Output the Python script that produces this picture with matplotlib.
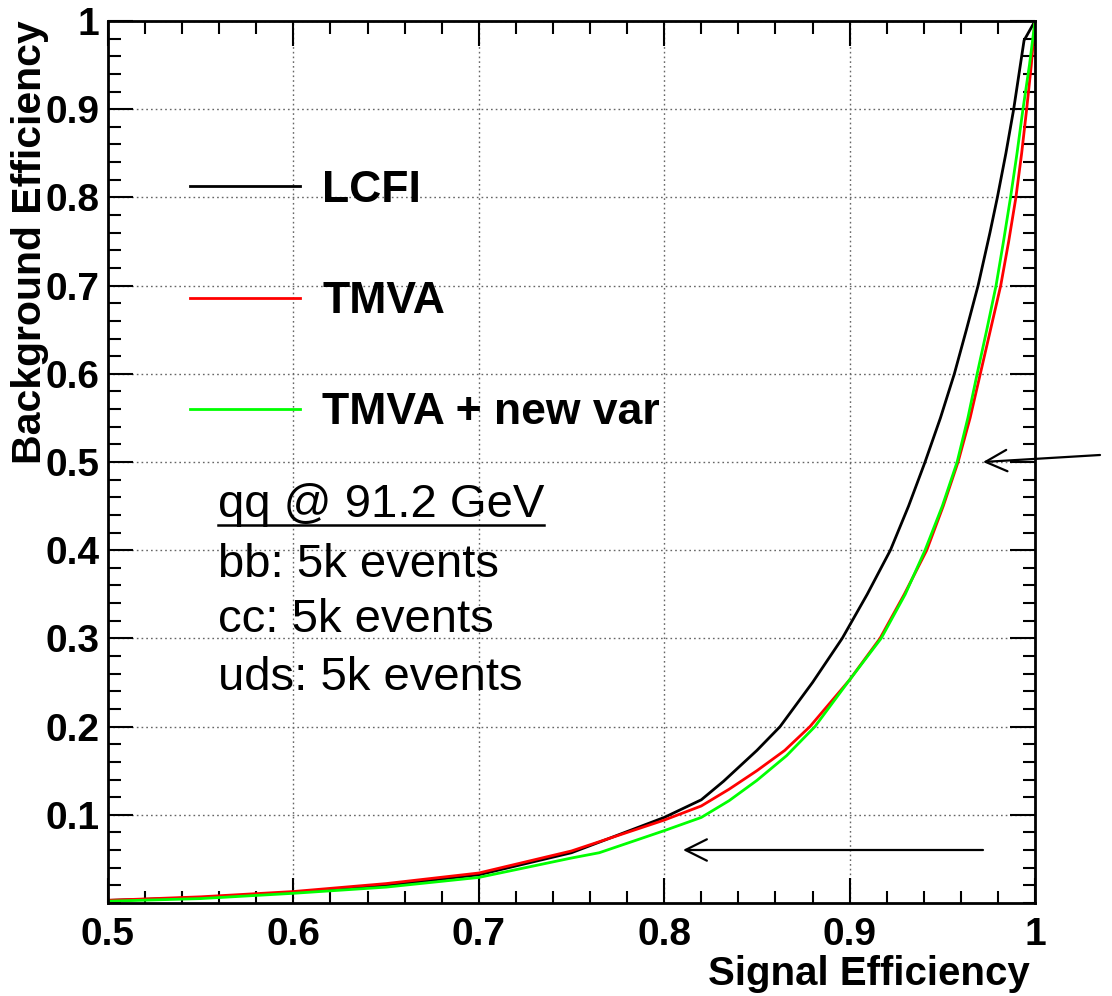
import numpy as np
import matplotlib
matplotlib.use("Agg")
import matplotlib.pyplot as plt
from matplotlib.ticker import MultipleLocator, FuncFormatter

# ---------------- data ----------------
lcfi_x = [0.5, 0.55, 0.6, 0.65, 0.7, 0.75, 0.8, 0.82, 0.832, 0.85, 0.8625, 0.880, 0.896,
          0.9095, 0.922, 0.9318, 0.9407, 0.949, 0.9565, 0.963, 0.9693, 0.9757, 0.9797,
          0.9843, 0.9885, 0.9941, 1.0]
lcfi_y = [0.003, 0.006, 0.012, 0.020, 0.032, 0.057, 0.097, 0.117, 0.138, 0.173, 0.200, 0.250,
          0.300, 0.350, 0.400, 0.450, 0.500, 0.550, 0.600, 0.650, 0.700, 0.760, 0.800,
          0.850, 0.900, 0.978, 1.0]

tmva_x = [0.5, 0.55, 0.6, 0.65, 0.7, 0.75, 0.8, 0.82, 0.835, 0.85, 0.865, 0.8786, 0.9, 0.9164,
          0.9295, 0.9416, 0.9505, 0.9585, 0.965, 0.9705, 0.976, 0.9815, 0.9858, 0.9897,
          0.9928, 0.9955, 0.998, 1.0]
tmva_y = [0.003, 0.007, 0.013, 0.022, 0.034, 0.059, 0.094, 0.110, 0.129, 0.150, 0.173, 0.200,
          0.253, 0.300, 0.350, 0.400, 0.450, 0.500, 0.550, 0.600, 0.650, 0.700, 0.750, 0.800,
          0.850, 0.900, 0.950, 1.0]

newvar_x = [0.5, 0.55, 0.6, 0.65, 0.7, 0.75, 0.765, 0.8, 0.82, 0.835, 0.85, 0.866, 0.8813, 0.9,
            0.917, 0.930, 0.9407, 0.950, 0.958, 0.9638, 0.9688, 0.974, 0.979, 0.983, 0.9868,
            0.9903, 0.9935, 0.997, 1.0]
newvar_y = [0.002, 0.005, 0.011, 0.018, 0.029, 0.051, 0.057, 0.082, 0.097, 0.116, 0.139, 0.167,
            0.200, 0.253, 0.300, 0.350, 0.400, 0.450, 0.500, 0.550, 0.600, 0.650, 0.700, 0.750,
            0.800, 0.850, 0.900, 0.950, 1.0]

series_labels = ["LCFI", "TMVA", "TMVA + new var"]
series_colors = ["#000000", "#ff0000", "#00ff00"]

x_ticks = [0.5, 0.6, 0.7, 0.8, 0.9, 1.0]
y_ticks = [0.1, 0.2, 0.3, 0.4, 0.5, 0.6, 0.7, 0.8, 0.9, 1.0]

info_title = "qq @ 91.2 GeV"
info_lines = ["bb: 5k events", "cc: 5k events", "uds: 5k events"]

# ---------------- figure ----------------
W, H = 1112, 996
fig = plt.figure(figsize=(W / 100, H / 100), dpi=100)
L, R, T, B = 108, 1035, 21, 903
ax = fig.add_axes([L / W, 1 - B / H, (R - L) / W, (B - T) / H])

bold = dict(family="Liberation Sans", weight="bold")

for xs, ys, lab, col in zip([lcfi_x, tmva_x, newvar_x], [lcfi_y, tmva_y, newvar_y],
                            series_labels, series_colors):
    ax.plot(xs, ys, color=col, lw=2.0, label=lab, solid_joinstyle="round")

ax.set_xlim(0.5, 1.0)
ax.set_ylim(0.0, 1.0)
ax.set_xticks(x_ticks)
ax.set_yticks(y_ticks)
ax.xaxis.set_minor_locator(MultipleLocator(0.02))
ax.yaxis.set_minor_locator(MultipleLocator(0.02))
fmt = FuncFormatter(lambda v, p: "%g" % round(v, 3))
ax.xaxis.set_major_formatter(fmt)
ax.yaxis.set_major_formatter(fmt)
ax.tick_params(which="both", direction="in", top=True, right=True, width=1.5, color="black")
ax.tick_params(which="major", length=18)
ax.tick_params(which="minor", length=9)
ax.tick_params(axis="x", which="major", pad=10)
ax.tick_params(axis="y", which="major", pad=6)
for lbl in ax.get_xticklabels() + ax.get_yticklabels():
    lbl.set_fontfamily("Liberation Sans")
    lbl.set_fontweight("bold")
    lbl.set_fontsize(28)
for sp in ax.spines.values():
    sp.set_linewidth(2.0)

ax.grid(True, which="major", linestyle=(0, (1.2, 2.2)), color="#666666", lw=1.0)
ax.set_axisbelow(True)

fig.text(1030 / W, 1 - 985 / H, "Signal Efficiency", ha="right", va="baseline",
         fontsize=29, **bold)
fig.text(30 / W, 1 - 20 / H, "Background Efficiency", ha="center", va="top",
         rotation=90, fontsize=29.5, **bold)

leg = ax.legend(loc="upper left", bbox_to_anchor=(190 / W, 1 - 170 / H),
                bbox_transform=fig.transFigure, frameon=False,
                prop=dict(family="Liberation Sans", weight="bold", size=32),
                handlelength=2.48, handletextpad=0.5, labelspacing=1.58,
                borderpad=0, borderaxespad=0)
for h in leg.get_lines():
    h.set_linewidth(2.0)

# info text block
def px2data(px, py):
    return 0.5 + (px - L) / (R - L) * 0.5, (B - py) / (B - T)

tx, ty = px2data(218, 517)
t_title = ax.text(tx, ty, info_title, fontsize=34, family="Liberation Sans",
                  va="baseline", ha="left")
for line, py in zip(info_lines, [577, 632, 690]):
    lx, ly = px2data(218, py)
    ax.text(lx, ly, line, fontsize=34, family="Liberation Sans", va="baseline", ha="left")

# underline for the title
fig.canvas.draw()
bb = t_title.get_window_extent()
inv = fig.transFigure.inverted()
x0, _ = inv.transform((bb.x0, 0))
x1, _ = inv.transform((bb.x1, 0))
uy = 1 - 525 / H
fig.add_artist(plt.Line2D([x0, x1], [uy, uy], transform=fig.transFigure,
                          color="black", lw=1.8))

# arrows
arrow_kw = dict(arrowstyle="->,head_length=0.7,head_width=0.35", color="black",
                lw=1.6, mutation_scale=22, shrinkA=0, shrinkB=0)
ax.annotate("", xy=px2data(983, 462), xytext=px2data(1100, 455),
            arrowprops=arrow_kw, annotation_clip=False)
ax.annotate("", xy=px2data(683, 850), xytext=px2data(983, 850),
            arrowprops=arrow_kw, annotation_clip=False)

fig.savefig("out.png", dpi=100)
